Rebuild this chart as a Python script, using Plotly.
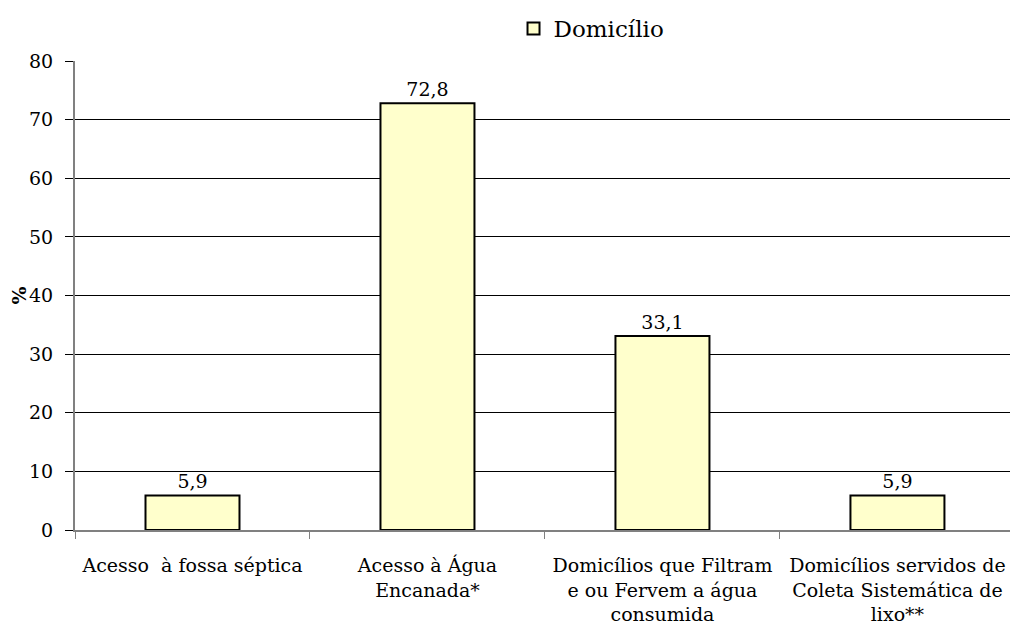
import plotly.graph_objects as go

# Dados
CATEGORIES = [
    "Acesso  à fossa séptica",
    "Acesso à Água<br>Encanada*",
    "Domicílios que Filtram<br>e ou Fervem a água<br>consumida",
    "Domicílios servidos de<br>Coleta Sistemática de<br>lixo**",
]
VALUES = [5.9, 72.8, 33.1, 5.9]
SERIES_NAME = "Domicílio"
Y_TICKS = [0, 10, 20, 30, 40, 50, 60, 70, 80]

SERIF = "DejaVu Serif"
FONT = dict(family=SERIF, size=19, color="black")

fig = go.Figure(
    go.Bar(
        x=CATEGORIES,
        y=VALUES,
        name=SERIES_NAME,
        width=0.4,
        marker=dict(color="#FFFFCC", line=dict(color="black", width=2)),
        text=[f"{v:.1f}".replace(".", ",") for v in VALUES],
        textposition="outside",
        textfont=FONT,
        cliponaxis=False,
        showlegend=True,
    )
)

# page body has an 8px margin, so the plot area is offset accordingly
fig.update_layout(
    width=1018,
    height=639,
    margin=dict(l=67, r=16, t=53, b=117),
    paper_bgcolor="white",
    plot_bgcolor="white",
    font=FONT,
    separators=",.",
    showlegend=True,
    legend=dict(
        orientation="h",
        x=0.469,
        xanchor="left",
        yref="container",
        y=0.968,
        yanchor="middle",
        font=dict(family=SERIF, size=23, color="black"),
        itemwidth=30,
    ),
)

fig.update_xaxes(
    type="category",
    range=[-0.5, 3.479],
    automargin=False,
    showline=True,
    linecolor="#808080",
    linewidth=2,
    ticks="outside",
    tickson="boundaries",
    ticklen=7,
    tickcolor="#808080",
    ticklabelstandoff=17,
    showgrid=False,
    tickfont=FONT,
)

fig.update_yaxes(
    range=[0, 80],
    tickvals=Y_TICKS,
    automargin=False,
    showline=True,
    linecolor="#808080",
    linewidth=2,
    ticks="outside",
    ticklen=8,
    tickcolor="black",
    ticklabelstandoff=8,
    showgrid=True,
    gridcolor="black",
    gridwidth=1,
    zeroline=False,
    tickfont=FONT,
    title=dict(text="<b>%</b>", font=FONT, standoff=4),
)

fig.write_html("out.html")
